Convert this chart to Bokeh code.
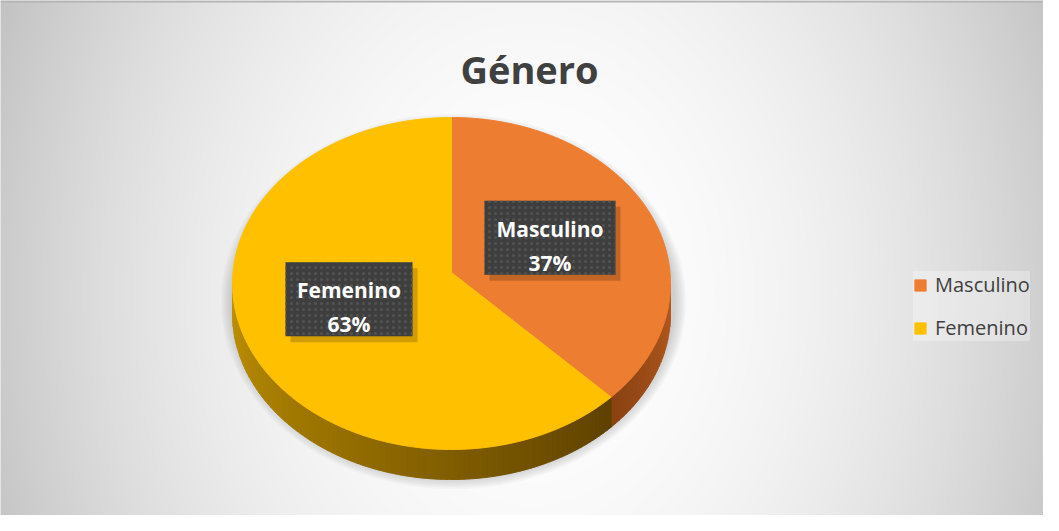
import numpy as np
from bokeh.plotting import figure
from bokeh.models import Range1d, Legend, LegendItem, ColumnDataSource
from bokeh.core.properties import value
from bokeh.embed import file_html
from bokeh.resources import INLINE

# ---------------- data ----------------
chart_title = "Género"
categories = ["Masculino", "Femenino"]
percentages = [37, 63]

# ---------------- style ----------------
top_colors = ["#ED7D31", "#FFC000"]
side_start = ["#B85C1F", "#5E4100"]   # side colour at start of visible span
side_end = ["#8A4213", "#C09200"]     # side colour at end of visible span
box_widths = [131, 127]
FONT = "Open Sans"
TXT = "#404040"

W, H = 1043, 515
OX, OY = 8, 8


def X(sx):
    return np.asarray(sx, float) - OX


def Y(sy):
    return (OY + H) - np.asarray(sy, float)


# pie geometry in page pixels
CX, CY_ELL, APEX_Y = 459, 291, 280
RX, RY = 219, 166
RY_LABEL = 155
DEPTH = 30


def arc(t0, t1, step=0.5):
    n = max(2, int(abs(t1 - t0) / step) + 1)
    th = np.radians(np.linspace(t0, t1, n))
    return CX + RX * np.sin(th), CY_ELL - RY * np.cos(th)


def hex2rgb(h):
    h = h.lstrip("#")
    return np.array([int(h[i:i + 2], 16) for i in (0, 2, 4)], float)


def rgb2hex(c):
    c = np.clip(np.round(c), 0, 255).astype(int)
    return "#%02x%02x%02x" % tuple(c)


p = figure(width=W, height=H, x_range=Range1d(0, W), y_range=Range1d(0, H),
           output_backend="svg", toolbar_location=None, min_border=0,
           x_axis_location=None, y_axis_location=None)
p.grid.visible = False
p.outline_line_color = None
p.background_fill_color = "#e0e0e0"
p.border_fill_color = "#ffffff"

# background radial gradient
yy, xx = np.mgrid[0:H, 0:W]
scr_x = xx + OX + 0.5
scr_y = (OY + H) - (yy + 0.5)
t2 = ((scr_x - 540) / 620) ** 2 + ((scr_y - 300) / 800) ** 2
v = np.clip(255 - 70 * t2, 185, 255).astype(np.uint32)
img = (np.uint32(255) << 24) | (v << 16) | (v << 8) | v
p.image_rgba(image=[img], x=0, y=0, dw=W, dh=H)

# thin top border of the chart area
p.line(x=[0, W], y=[H - 1, H - 1], line_color="#b4b4b4", line_width=2)

# soft shadow beneath the pie
for k in range(8):
    p.ellipse(x=X(CX + 2), y=Y(CY_ELL + 18), width=2 * RX + 6 + 3 * k,
              height=2 * RY + 22 + 3 * k, fill_color="#707070",
              fill_alpha=0.045, line_color=None)

# angles from data
total = float(sum(percentages))
cum = np.concatenate([[0], np.cumsum(percentages)]) / total * 360.0
starts, ends = cum[:-1], cum[1:]

# side walls (visible front part 90..270 deg)
side_xs, side_ys, side_cols = [], [], []
for i in range(len(categories)):
    a0, a1 = max(starts[i], 90.0), min(ends[i], 270.0)
    if a1 <= a0:
        continue
    edges = np.linspace(a0, a1, max(2, int((a1 - a0) / 1.5) + 1))
    c0, c1 = hex2rgb(side_start[i]), hex2rgb(side_end[i])
    for j in range(len(edges) - 1):
        ax_, ay_ = arc(edges[j], edges[j + 1], step=0.5)
        xs = np.concatenate([ax_, ax_[::-1]])
        ys = np.concatenate([ay_, ay_[::-1] + DEPTH])
        f = (0.5 * (edges[j] + edges[j + 1]) - a0) / (a1 - a0)
        side_xs.append(X(xs))
        side_ys.append(Y(ys))
        side_cols.append(rgb2hex(c0 + (c1 - c0) * f))
p.patches(xs=side_xs, ys=side_ys, fill_color=side_cols, line_color=side_cols,
          line_width=1)

# top faces
top_xs, top_ys = [], []
for i in range(len(categories)):
    ax_, ay_ = arc(starts[i], ends[i])
    top_xs.append(X(np.concatenate([[CX], ax_])))
    top_ys.append(Y(np.concatenate([[APEX_Y], ay_])))
top_src = ColumnDataSource(dict(xs=top_xs, ys=top_ys, color=top_colors,
                                label=categories))
top_r = p.patches(xs="xs", ys="ys", fill_color="color", line_color="color",
                  line_width=1, source=top_src)

# data labels
mid = np.radians((starts + ends) / 2)
lab_x = CX + 0.5 * RX * np.sin(mid) - 2
lab_y = APEX_Y - 0.5 * RY_LABEL * np.cos(mid) - 4
p.rect(x=X(lab_x + 5), y=Y(lab_y + 6), width=box_widths, height=74,
       fill_color="#000000", fill_alpha=0.18, line_color=None)
p.rect(x=X(lab_x), y=Y(lab_y), width=box_widths, height=74,
       fill_color="#3e3e3e", line_color=None, hatch_pattern="dot",
       hatch_color="#525252", hatch_scale=6, hatch_weight=1)
pct_text = ["%d%%" % v_ for v_ in percentages]
p.text(x=X(lab_x), y=Y(lab_y - 9), text=categories, text_align="center",
       text_baseline="alphabetic", text_font=value(FONT),
       text_font_style="bold", text_font_size="21px", text_color="white")
p.text(x=X(lab_x), y=Y(lab_y + 25), text=pct_text, text_align="center",
       text_baseline="alphabetic", text_font=value(FONT),
       text_font_style="bold", text_font_size="21px", text_color="white")

# title
p.text(x=X([537]), y=Y([76]), text=[chart_title], text_align="center",
       text_baseline="alphabetic", text_font=value(FONT),
       text_font_style="bold", text_font_size="38px", text_color=TXT)

# legend
legend = Legend(
    items=[LegendItem(label=c, renderers=[top_r], index=i)
           for i, c in enumerate(categories)],
    location=(913, 174), orientation="vertical",
    label_text_font=FONT, label_text_font_size="20px",
    label_text_color=TXT, glyph_width=14, glyph_height=14,
    label_standoff=8, spacing=16, padding=12, margin=0,
    background_fill_color="white", background_fill_alpha=0.3,
    border_line_color=None)
p.add_layout(legend)

open("out.html", "w").write(file_html(p, INLINE))
